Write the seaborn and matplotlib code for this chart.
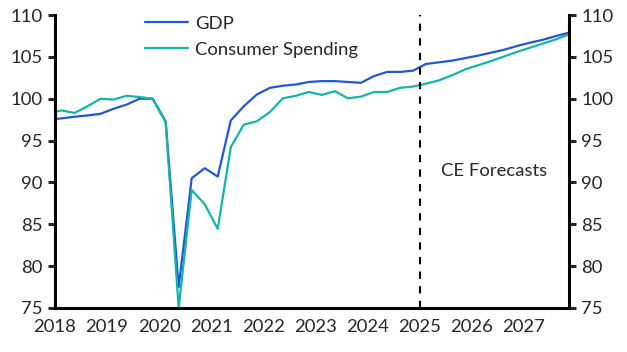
# Recreates the GDP vs consumer spending chart (index, forecasts from 2025).

import numpy as np
import pandas as pd
import seaborn as sns
import matplotlib
import matplotlib.pyplot as plt

matplotlib.use('Agg')

# quarters from 2017Q4 to 2027Q4, plotted at mid-quarter
start_year = 2017.875
gdp = [97.5,
       97.65, 97.85, 98.0, 98.2,
       98.8, 99.3, 100.0, 100.0,
       97.3, 77.5, 90.5, 91.7,
       90.7, 97.4, 99.1, 100.5,
       101.3, 101.55, 101.7, 102.0,
       102.1, 102.1, 102.0, 101.9,
       102.7, 103.2, 103.2, 103.35,
       104.15, 104.35, 104.55, 104.85,
       105.15, 105.5, 105.85, 106.3,
       106.7, 107.05, 107.5, 107.9]
consumer = [98.3,
            98.6, 98.3, 99.1, 100.0,
            99.9, 100.35, 100.2, 100.0,
            97.2, 75.0, 89.1, 87.4,
            84.45, 94.2, 96.9, 97.3,
            98.4, 100.05, 100.35, 100.8,
            100.45, 100.9, 100.05, 100.25,
            100.8, 100.8, 101.3, 101.45,
            101.8, 102.2, 102.8, 103.5,
            104.0, 104.5, 105.05, 105.6,
            106.1, 106.6, 107.1, 107.7]
series_names = ["GDP", "Consumer Spending"]
colors = ["#2357d0", "#14b5a5"]
forecast_start = 2025
year_ticks = list(range(2018, 2028))
y_ticks = [75, 80, 85, 90, 95, 100, 105, 110]

t = start_year + 0.25 * np.arange(len(gdp))
df = pd.concat([
    pd.DataFrame({"t": t, "value": gdp, "series": series_names[0]}),
    pd.DataFrame({"t": t, "value": consumer, "series": series_names[1]}),
])

sns.set_style("white")
plt.rcParams['font.family'] = ['Lato', 'DejaVu Sans']
fs = 13.3

fig = plt.figure(figsize=(6.27, 3.52), dpi=100)
ax = fig.add_axes([55 / 627, 1 - 308 / 352, (569 - 55) / 627, (308 - 15) / 352])

sns.lineplot(data=df, x="t", y="value", hue="series", palette=colors,
             linewidth=1.6, ax=ax)

ax.axvline(forecast_start, color="black", linestyle=(0, (3.5, 3.5)), linewidth=1.5)
ax.text(2025.42, 91.4, "CE Forecasts", fontsize=fs, va="center", ha="left")

ax.set_xlim(2018, 2027.87)
ax.set_ylim(75, 110)
ax.set_xticks(year_ticks)
ax.set_xticklabels([str(y) for y in year_ticks])
ax.set_yticks(y_ticks)
ax.set_xlabel("")
ax.set_ylabel("")

ax2 = ax.twinx()
ax2.set_ylim(75, 110)
ax2.set_yticks(y_ticks)

for a in (ax, ax2):
    a.spines["top"].set_visible(False)
    for side in ("left", "bottom", "right"):
        a.spines[side].set_linewidth(2.2)
        a.spines[side].set_color("black")
    a.tick_params(direction="out", length=5, width=2.2, labelsize=fs, pad=4)
ax2.spines["left"].set_visible(False)
ax2.spines["bottom"].set_visible(False)
ax.spines["right"].set_visible(False)
ax.tick_params(axis="x", pad=3)

handles, labels = ax.get_legend_handles_labels()
ax.legend(handles, labels, loc="upper left", bbox_to_anchor=(0.143, 1.055),
          frameon=False, fontsize=fs, handlelength=2.3, labelspacing=0.55,
          handletextpad=0.4)

fig.savefig("out.png", dpi=100)
